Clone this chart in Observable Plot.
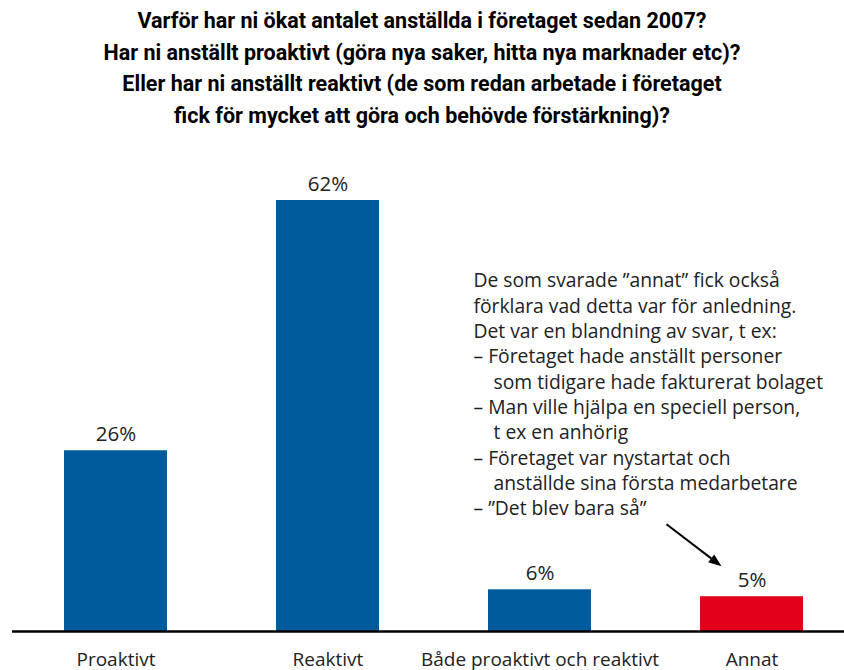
<!DOCTYPE html>
<html><head><meta charset="utf-8">
<script src="https://cdn.jsdelivr.net/npm/d3@7"></script>
<script src="https://cdn.jsdelivr.net/npm/@observablehq/plot@0.6"></script>
<style>
body{margin:0;background:#fff;}
#title{height:140px;box-sizing:border-box;padding-top:5px;text-align:center;font-family:Roboto,sans-serif;font-weight:bold;font-size:21.5px;line-height:31.5px;color:#000;}
#chart svg{display:block;overflow:visible;}
</style></head><body>
<div id="title"></div>
<div id="chart"></div>
<script>
const titleLines = [
  "Varför har ni ökat antalet anställda i företaget sedan 2007?",
  "Har ni anställt proaktivt (göra nya saker, hitta nya marknader etc)?",
  "Eller har ni anställt reaktivt (de som redan arbetade i företaget",
  "fick för mycket att göra och behövde förstärkning)?"
];
const categories = ["Proaktivt", "Reaktivt", "Både proaktivt och reaktivt", "Annat"];
const values = [26, 62, 6, 5];
const valueLabels = ["26%", "62%", "6%", "5%"];
const highlighted = [false, false, false, true];
const noteLines = [
  "De som svarade \u201dannat\u201d fick också",
  "förklara vad detta var för anledning.",
  "Det var en blandning av svar, t ex:",
  "– Företaget hade anställt personer",
  "\u00a0\u00a0\u00a0\u00a0som tidigare hade fakturerat bolaget",
  "– Man ville hjälpa en speciell person,",
  "\u00a0\u00a0\u00a0\u00a0t ex en anhörig",
  "– Företaget var nystartat och",
  "\u00a0\u00a0\u00a0\u00a0anställde sina första medarbetare",
  "– \u201dDet blev bara så\u201d"
];

document.getElementById("title").innerHTML = titleLines.map(t => t.replace(/&/g,"&amp;").replace(/</g,"&lt;")).join("<br>");

const BLUE = "#005B9C", RED = "#E2001A";
const data = categories.map((c, i) => ({category: c, value: values[i], label: valueLabels[i], hi: highlighted[i]}));

function arrowMark(index, scales, values, dims) {
  const xs = scales.x;
  const bw = typeof xs.bandwidth === "function" ? xs.bandwidth() : ((scales.scales && scales.scales.x && scales.scales.x.bandwidth) || 0);
  const cx = xs("Annat") + bw / 2;
  const yb = scales.y(5);
  const x1 = cx - 85, y1 = yb - 72, x2 = cx - 30, y2 = yb - 30;
  const ang = Math.atan2(y2 - y1, x2 - x1);
  const L = 13, W = 5;
  const bx = x2 - L * Math.cos(ang), by = y2 - L * Math.sin(ang);
  const g = d3.create("svg:g");
  g.append("line").attr("x1", x1).attr("y1", y1).attr("x2", bx).attr("y2", by).attr("stroke", "#000").attr("stroke-width", 2);
  g.append("path").attr("fill", "#000").attr("d",
    `M${x2},${y2}L${bx + W * Math.sin(ang)},${by - W * Math.cos(ang)}L${bx - W * Math.sin(ang)},${by + W * Math.cos(ang)}Z`);
  return g.node();
}

const chart = Plot.plot({
  width: 844, height: 530,
  marginTop: 60, marginBottom: 39, marginLeft: 12, marginRight: 0,
  style: {fontFamily: "'Open Sans', sans-serif", color: "#000", background: "#fff"},
  x: {domain: categories, range: [11.7, 854.3], paddingInner: 0.516, paddingOuter: 0.242, axis: null},
  y: {domain: [0, 62], axis: null},
  color: {type: "identity"},
  marks: [
    Plot.barY(data, {x: "category", y: "value", fill: d => d.hi ? RED : BLUE}),
    Plot.ruleY([0], {stroke: "#000", strokeWidth: 2.5}),
    Plot.text(data, {x: "category", y: "value", text: "label", dy: -10, lineAnchor: "bottom", fontSize: 20.5, fill: "#222"}),
    Plot.axisX({tickSize: 0, tickPadding: 21, fontSize: 19, fill: "#222", label: null, fontFamily: "'Open Sans', sans-serif"}),
    Plot.text([noteLines.join("\n")], {frameAnchor: "top-left", dx: 461, dy: 69, lineAnchor: "top", textAnchor: "start", fontSize: 19.3, lineHeight: 25.3 / 19.3, fill: "#222"}),
    arrowMark
  ]
});
document.getElementById("chart").appendChild(chart);
</script>
</body></html>
